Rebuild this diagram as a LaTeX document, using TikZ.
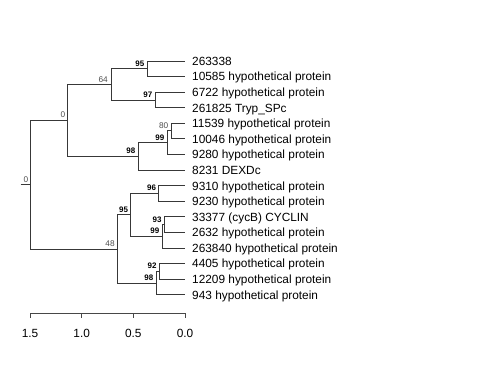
\documentclass[tikz,border=0pt]{standalone}
\usepackage{fontspec}
\setmainfont{Liberation Sans}
\begin{document}
\begin{tikzpicture}[x=1bp,y=-1bp,
  branch/.style={draw=black!78,line width=1bp},
  axisline/.style={draw=black!72,line width=1bp},
  leaflab/.style={font=\fontsize{11.9}{12}\selectfont,inner sep=0pt,anchor=base west},
  nlabbold/.style={font=\fontsize{8}{8}\selectfont\bfseries,inner sep=0pt,anchor=base east,text=black},
  nlabplain/.style={font=\fontsize{8.3}{8}\selectfont,inner sep=0pt,anchor=base east,text=black!70},
  axlab/.style={font=\fontsize{11.9}{12}\selectfont,inner sep=0pt,anchor=base}]
\useasboundingbox (0,0) rectangle (480,384);
% leaf tips
\coordinate (t1) at (185,61);
\coordinate (t2) at (185,76.6);
\coordinate (t3) at (185,92.2);
\coordinate (t4) at (185,107.7);
\coordinate (t5) at (185,123.3);
\coordinate (t6) at (185,138.9);
\coordinate (t7) at (185,154.5);
\coordinate (t8) at (185,170.1);
\coordinate (t9) at (185,185.7);
\coordinate (t10) at (185,201.2);
\coordinate (t11) at (185,216.8);
\coordinate (t12) at (185,232.4);
\coordinate (t13) at (185,248);
\coordinate (t14) at (185,263.5);
\coordinate (t15) at (185,279.1);
\coordinate (t16) at (185,294.7);
% internal nodes
\coordinate (n95a) at (147,68.8);
\coordinate (n97) at (155,100);
\coordinate (n64) at (111,84.4);
\coordinate (n80) at (171,130.6);
\coordinate (n99a) at (167,142.6);
\coordinate (n98a) at (138,156.3);
\coordinate (nA) at (67.7,120.3);
\coordinate (n96) at (158.7,193.5);
\coordinate (n93) at (164.3,224.6);
\coordinate (n99b) at (162,236.3);
\coordinate (n95b) at (130.7,214.9);
\coordinate (n92) at (159.3,271.3);
\coordinate (n98b) at (156,283);
\coordinate (n48) at (117.3,249);
\coordinate (root) at (30.3,184.6);
\coordinate (stub) at (20.7,184.6);
% branches
\draw[branch] (stub) -- (root);
\draw[branch] (root) |- (nA);
\draw[branch] (root) |- (n48);
\draw[branch] (nA) |- (n64);
\draw[branch] (nA) |- (n98a);
\draw[branch] (n64) |- (n95a);
\draw[branch] (n64) |- (n97);
\draw[branch] (n95a) |- (t1);
\draw[branch] (n95a) |- (t2);
\draw[branch] (n97) |- (t3);
\draw[branch] (n97) |- (t4);
\draw[branch] (n98a) |- (n99a);
\draw[branch] (n98a) |- (t8);
\draw[branch] (n99a) |- (n80);
\draw[branch] (n99a) |- (t7);
\draw[branch] (n80) |- (t5);
\draw[branch] (n80) |- (t6);
\draw[branch] (n48) |- (n95b);
\draw[branch] (n48) |- (n98b);
\draw[branch] (n95b) |- (n96);
\draw[branch] (n95b) |- (n99b);
\draw[branch] (n96) |- (t9);
\draw[branch] (n96) |- (t10);
\draw[branch] (n99b) |- (n93);
\draw[branch] (n99b) |- (t13);
\draw[branch] (n93) |- (t11);
\draw[branch] (n93) |- (t12);
\draw[branch] (n98b) |- (n92);
\draw[branch] (n98b) |- (t16);
\draw[branch] (n92) |- (t14);
\draw[branch] (n92) |- (t15);
% leaf labels
\node[leaflab] (L1) at ([xshift=7bp,yshift=-4.3bp]t1) {263338};
\node[leaflab] (L2) at ([xshift=7bp,yshift=-4.3bp]t2) {10585 hypothetical protein};
\node[leaflab] (L3) at ([xshift=7bp,yshift=-4.3bp]t3) {6722 hypothetical protein};
\node[leaflab] (L4) at ([xshift=7bp,yshift=-4.3bp]t4) {261825 Tryp\_SPc};
\node[leaflab] (L5) at ([xshift=7bp,yshift=-4.3bp]t5) {11539 hypothetical protein};
\node[leaflab] (L6) at ([xshift=7bp,yshift=-4.3bp]t6) {10046 hypothetical protein};
\node[leaflab] (L7) at ([xshift=7bp,yshift=-4.3bp]t7) {9280 hypothetical protein};
\node[leaflab] (L8) at ([xshift=7bp,yshift=-4.3bp]t8) {8231 DEXDc};
\node[leaflab] (L9) at ([xshift=7bp,yshift=-4.3bp]t9) {9310 hypothetical protein};
\node[leaflab] (L10) at ([xshift=7bp,yshift=-4.3bp]t10) {9230 hypothetical protein};
\node[leaflab] (L11) at ([xshift=7bp,yshift=-4.3bp]t11) {33377 (cycB) CYCLIN};
\node[leaflab] (L12) at ([xshift=7bp,yshift=-4.3bp]t12) {2632 hypothetical protein};
\node[leaflab] (L13) at ([xshift=7bp,yshift=-4.3bp]t13) {263840 hypothetical protein};
\node[leaflab] (L14) at ([xshift=7bp,yshift=-4.3bp]t14) {4405 hypothetical protein};
\node[leaflab] (L15) at ([xshift=7bp,yshift=-4.3bp]t15) {12209 hypothetical protein};
\node[leaflab] (L16) at ([xshift=7bp,yshift=-4.3bp]t16) {943 hypothetical protein};
% node support labels
\node[nlabplain] (Sroot) at ([xshift=-2bp,yshift=2.5bp]root) {0};
\node[nlabplain] (SA) at ([xshift=-2.3bp,yshift=2.5bp]nA) {0};
\node[nlabplain] (S64) at ([xshift=-3bp,yshift=2.3bp]n64) {64};
\node[nlabbold] (S95a) at ([xshift=-2.5bp,yshift=2.6bp]n95a) {95};
\node[nlabbold] (S97) at ([xshift=-2.5bp,yshift=2.6bp]n97) {97};
\node[nlabbold] (S98a) at ([xshift=-2.5bp,yshift=2.6bp]n98a) {98};
\node[nlabbold] (S99a) at ([xshift=-2.5bp,yshift=2.6bp]n99a) {99};
\node[nlabplain] (S80) at ([xshift=-2.5bp,yshift=2.3bp]n80) {80};
\node[nlabplain] (S48) at ([xshift=-2.5bp,yshift=2.3bp]n48) {48};
\node[nlabbold] (S95b) at ([xshift=-2.5bp,yshift=2.6bp]n95b) {95};
\node[nlabbold] (S96) at ([xshift=-2.5bp,yshift=2.6bp]n96) {96};
\node[nlabbold] (S99b) at ([xshift=-2.5bp,yshift=2.6bp]n99b) {99};
\node[nlabbold] (S93) at ([xshift=-2.5bp,yshift=2.6bp]n93) {93};
\node[nlabbold] (S98b) at ([xshift=-2.5bp,yshift=2.6bp]n98b) {98};
\node[nlabbold] (S92) at ([xshift=-2.5bp,yshift=2.6bp]n92) {92};
% axis
\coordinate (a15) at (30,313);
\coordinate (a10) at (81.7,313);
\coordinate (a05) at (133.3,313);
\coordinate (a00) at (185,313);
\draw[axisline] (a15) -- (a00);
\foreach \p in {a15,a10,a05,a00}{\draw[axisline] (\p) -- ++(0,5);}
\node[axlab] (X15) at ([yshift=-24bp]a15) {1.5};
\node[axlab] (X10) at ([yshift=-24bp]a10) {1.0};
\node[axlab] (X05) at ([yshift=-24bp]a05) {0.5};
\node[axlab] (X00) at ([yshift=-24bp]a00) {0.0};
\end{tikzpicture}
\end{document}
